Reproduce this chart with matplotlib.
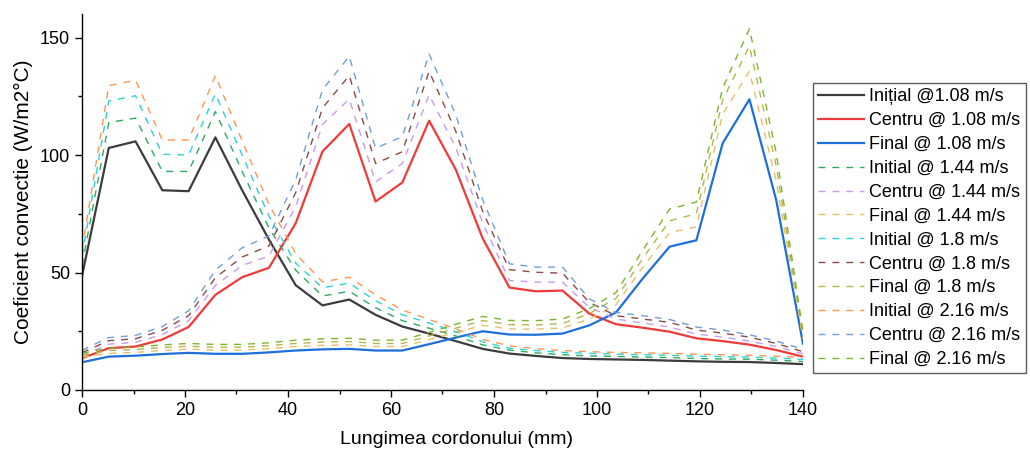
import matplotlib
matplotlib.use("Agg")
import matplotlib.pyplot as plt
from matplotlib.ticker import MultipleLocator

plt.rcParams['font.family'] = ['Liberation Sans', 'DejaVu Sans']

x_mm = [0, 5.2, 10.4, 15.6, 20.7, 25.9, 31.1, 36.3, 41.5, 46.7, 51.9, 57.0, 62.2, 67.4,
        72.6, 77.8, 83.0, 88.1, 93.3, 98.5, 103.7, 108.9, 114.1, 119.3, 124.4, 129.6, 134.8, 140]

initial_108 = [48.5, 103, 105.8, 85, 84.6, 107.5, 85, 64, 44.6, 36, 38.5, 32, 27, 24,
               20.8, 17.5, 15.5, 14.5, 13.6, 13.2, 13, 12.8, 12.5, 12.2, 12, 11.9, 11.5, 11]
centru_108 = [13.5, 17.8, 18.5, 21.5, 26.8, 40.5, 48, 52, 71, 101.5, 113.2, 80.2, 88.3, 114.6,
              93.7, 64.5, 43.6, 42, 42.3, 32.5, 28, 26.5, 24.8, 22, 20.8, 19.3, 17, 14.2]
final_108 = [11.8, 14.2, 14.6, 15.3, 15.8, 15.4, 15.4, 16, 16.8, 17.3, 17.5, 16.8, 16.8, 19.5,
             22.3, 25, 23.6, 23.5, 24, 27.5, 33, 47.5, 61, 63.7, 105, 123.7, 80.8, 19.7]

initial_144 = [53, 113.8, 115.7, 93, 93, 118.5, 93, 69, 51, 40, 42, 35, 29.5, 26.3,
               23, 19.2, 17, 15.8, 15, 14.5, 14.3, 14, 13.8, 13.4, 13.2, 13.1, 12.7, 12.1]
centru_144 = [14.8, 19.5, 20.3, 23.6, 29.5, 44.5, 53, 57, 78, 113, 123.8, 88.6, 96.4, 125.6,
              103, 71, 46.6, 45.9, 45.9, 35.2, 30.2, 28.5, 26.8, 23.8, 22.5, 20.8, 18.5, 15.4]
final_144 = [13.9, 15.6, 16, 16.8, 17.4, 17, 17, 17.6, 18.5, 19, 19.2, 18.5, 18.5, 21.5,
             24.5, 27.5, 26, 25.9, 26.4, 30.2, 36.3, 52.3, 67, 69.4, 117.5, 135.6, 89, 21.7]

initial_18 = [57, 123, 125.2, 100.3, 100, 126, 100, 74, 54, 43.5, 45.5, 38, 32, 28.5,
              24.8, 20.5, 17.8, 16.8, 16, 15.6, 15.3, 15, 14.8, 14.4, 14.2, 14, 13.6, 13]
centru_18 = [15.9, 21, 21.8, 25.4, 31.6, 47.8, 56.6, 61.3, 84, 120, 133.8, 96.4, 101.4, 135.6,
             110, 76, 51.2, 50.1, 49.7, 37.3, 31.6, 30.2, 28.8, 25.5, 24.2, 22.5, 19.8, 16.3]
final_18 = [14.8, 16.8, 17.2, 18.1, 18.6, 18.2, 18.2, 18.9, 19.8, 20.4, 20.6, 19.8, 19.8, 23,
            26.3, 29.6, 27.8, 27.7, 28.3, 32.5, 39, 56, 72, 75, 123.5, 146.3, 95.3, 23.2]

initial_216 = [60, 129.5, 131.8, 106.4, 106.4, 133.8, 106, 79, 58, 46, 48, 40.5, 34, 30,
               26, 21.5, 18.8, 17.6, 16.8, 16.3, 16, 15.8, 15.6, 15.2, 15, 14.8, 14.4, 13.8]
centru_216 = [16.9, 22.3, 23.2, 27, 33.7, 51, 60.5, 65.5, 89.5, 127.8, 142, 102.9, 107.8, 143,
              117, 81, 53.7, 52.3, 52.3, 38.8, 33, 31.6, 30, 26.8, 25.5, 23.5, 20.8, 17.4]
final_216 = [15.7, 17.8, 18.3, 19.2, 19.8, 19.4, 19.4, 20.1, 21.2, 21.8, 22, 21.2, 21.2, 24.5,
             28, 31.3, 29.6, 29.5, 30.2, 34.6, 41.5, 59.5, 77, 80, 128.5, 153.7, 101, 24.6]

labels = ["Inițial @1.08 m/s", "Centru @ 1.08 m/s", "Final @ 1.08 m/s",
          "Initial @ 1.44 m/s", "Centru @ 1.44 m/s", "Final @ 1.44 m/s",
          "Initial @ 1.8 m/s", "Centru @ 1.8 m/s", "Final @ 1.8 m/s",
          "Initial @ 2.16 m/s", "Centru @ 2.16 m/s", "Final @ 2.16 m/s"]
series = [initial_108, centru_108, final_108,
          initial_144, centru_144, final_144,
          initial_18, centru_18, final_18,
          initial_216, centru_216, final_216]
colors = ["#3c3c3c", "#f03a3a", "#1d6fdc",
          "#2eaa5e", "#c79bf0", "#e4c069",
          "#2bd3d8", "#8b4a4a", "#b6b64a",
          "#ff9650", "#6f9fd8", "#7cb42c"]

fig = plt.figure(figsize=(10.30, 4.55), dpi=100)
ax = fig.add_axes([82/1030, 1-390/455, (803-82)/1030, (390-14)/455])

for i, (ys, lab, c) in enumerate(zip(series, labels, colors)):
    if i < 3:
        ax.plot(x_mm, ys, color=c, lw=1.6, label=lab)
    else:
        ax.plot(x_mm, ys, color=c, lw=1.0, ls=(0, (5, 5)), label=lab)

ax.set_xlim(0, 140)
ax.set_ylim(0, 160)
ax.xaxis.set_major_locator(MultipleLocator(20))
ax.xaxis.set_minor_locator(MultipleLocator(10))
ax.yaxis.set_major_locator(MultipleLocator(50))
ax.yaxis.set_minor_locator(MultipleLocator(25))
ax.tick_params(which='major', direction='out', length=5, width=1, labelsize=13)
ax.tick_params(which='minor', direction='out', length=3, width=1)
for s in ['top', 'right']:
    ax.spines[s].set_visible(False)
for s in ['left', 'bottom']:
    ax.spines[s].set_linewidth(1.0)

ax.set_xlabel("Lungimea cordonului (mm)", fontsize=14)
ax.xaxis.set_label_coords((457-82)/721, -0.11)
ax.set_ylabel("Coeficient convectie (W/m2°C)", fontsize=15)
ax.yaxis.set_label_coords(-0.068, 0.5)

leg = fig.legend(loc='upper left', bbox_to_anchor=(813/1030, 1-83/455),
                 fontsize=13, frameon=True, fancybox=False, borderpad=0.3,
                 labelspacing=0.38, handlelength=2.5, handletextpad=0.3,
                 borderaxespad=0)
leg.get_frame().set_edgecolor("#333333")
leg.get_frame().set_linewidth(1.0)

fig.savefig("out.png", dpi=100)
